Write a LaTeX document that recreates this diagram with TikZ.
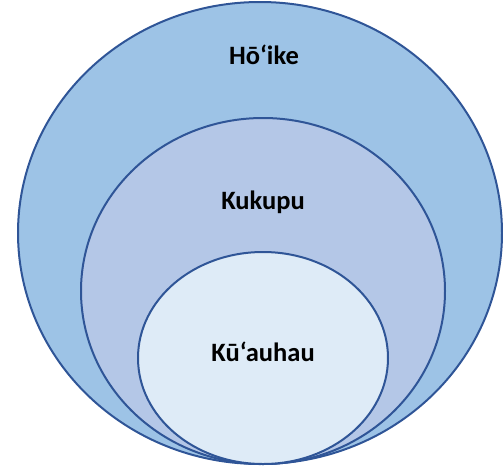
\documentclass[tikz,border=0pt]{standalone}
\usepackage{fontspec}
\setmainfont{Carlito}
\usepackage{xcolor}
\usepackage{tikz}
\usetikzlibrary{shapes.geometric,positioning}

\definecolor{ringline}{HTML}{2F5597}
\definecolor{outerfill}{HTML}{9DC3E6}
\definecolor{midfill}{HTML}{B4C7E7}
\definecolor{innerfill}{HTML}{DEEBF7}

\begin{document}
\begin{tikzpicture}[x=1pt,y=-1pt,
      ring/.style={ellipse,draw=ringline,line width=2pt,inner sep=0pt},
      lbl/.style={font=\fontsize{26.5}{30}\selectfont\bfseries,text=black}]
      \useasboundingbox (0,0) rectangle (503,469);
      % nested rings, all touching at the bottom
      \node[ring,fill=outerfill,minimum width=484pt,minimum height=462pt] (hoike) at (260,233) {};
      \node[ring,fill=midfill,minimum width=364pt,minimum height=346pt] (kukupu) at (263,291) {};
      \node[ring,fill=innerfill,minimum width=250pt,minimum height=212pt] (kuauhau) at (263,358) {};
      % labels
      \node[lbl] (hoikelbl) at (264,55) {Hō‘ike};
      \node[lbl] (kukupulbl) at (263,202) {Kukupu};
      \node[lbl] (kuauhaulbl) at (263,352) {Kū‘auhau};
    \end{tikzpicture}
\end{document}
